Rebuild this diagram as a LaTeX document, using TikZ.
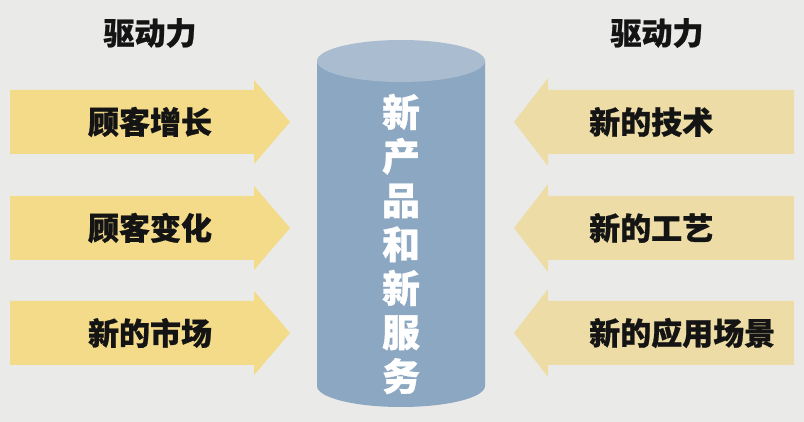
\documentclass[tikz,border=0pt]{standalone}
\usepackage{fontspec}
\newfontfamily\cjk{Noto Sans CJK SC}[BoldFeatures={FakeBold=0.8}]
\definecolor{bg}{HTML}{EAEAE8}
\definecolor{arrowL}{HTML}{F3DB8A}
\definecolor{arrowR}{HTML}{EDDCA6}
\definecolor{cylbody}{HTML}{8CA7C1}
\definecolor{cyltop}{HTML}{AABDD0}
\definecolor{txt}{HTML}{141414}
\tikzset{
  lbl/.style={font=\cjk\bfseries\fontsize{31}{34}\selectfont, text=txt, inner sep=0pt},
  lblR/.style={lbl, anchor=west},
  cyltext/.style={font=\cjk\bfseries\fontsize{38}{44}\selectfont, text=white, align=center, inner sep=0pt},
}
\begin{document}
\begin{tikzpicture}[x=1pt,y=-1pt]
\fill[bg] (0,0) rectangle (804,422);
\useasboundingbox (0,0) rectangle (804,422);
% left arrows
\foreach \c in {122,228,333}{
  \fill[arrowL] (10,\c-32) -- (254,\c-32) -- (254,\c-42) -- (290,\c) -- (254,\c+42) -- (254,\c+32) -- (10,\c+32) -- cycle;
}
% right arrows
\foreach \c in {122,228,333}{
  \fill[arrowR] (794,\c-32) -- (548,\c-32) -- (548,\c-44) -- (514,\c) -- (548,\c+44) -- (548,\c+32) -- (794,\c+32) -- cycle;
}
% cylinder
\fill[cylbody] (317,61) -- (317,386) arc (180:360:84pt and 21pt) -- (485,61) -- cycle;
\fill[cyltop] (401,61) ellipse (84pt and 21pt);
\node[cyltext] (cyl) at (401,244) {新\\产\\品\\和\\新\\服\\务};
% headers
\node[lbl] (hl) at (150,33) {驱动力};
\node[lbl] (hr) at (657,33) {驱动力};
% left labels
\node[lbl] (l1) at (150,122) {顾客增长};
\node[lbl] (l2) at (150,228) {顾客变化};
\node[lbl] (l3) at (150,333) {新的市场};
% right labels
\node[lblR] (r1) at (589,122) {新的技术};
\node[lblR] (r2) at (589,228) {新的工艺};
\node[lblR] (r3) at (589,333) {新的应用场景};
\end{tikzpicture}
\end{document}
